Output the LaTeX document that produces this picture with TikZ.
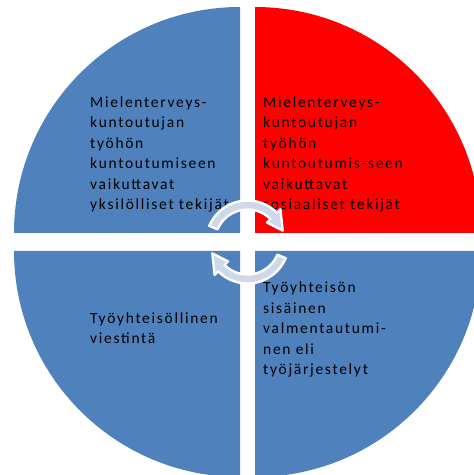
\documentclass[tikz,border=0pt]{standalone}
\usepackage{fontspec}
\setmainfont{Carlito}[LetterSpace=11]
\definecolor{qblue}{RGB}{79,129,189}
\definecolor{qred}{RGB}{255,0,0}
\definecolor{arrfill}{RGB}{205,216,234}
\tikzset{
  quad/.style={draw=none},
  lbl/.style={inner sep=0pt, anchor=base west, align=left, text=black,
    font=\fontsize{15.5}{20.6}\selectfont},
  cyc/.style={fill=arrfill, draw=white, line width=2.4pt, line join=round}
}
\begin{document}
\begin{tikzpicture}[x=1pt,y=1pt]
\useasboundingbox (0,0) rectangle (474,475);
\clip (0,0) rectangle (474,475);
% quadrants
\fill[qblue] (240,242) -- (14,242) arc[start angle=180,end angle=90,radius=226] -- cycle;
\fill[qred]  (255,242) -- (255,468) arc[start angle=90,end angle=0,radius=226] -- cycle;
\fill[qblue] (240,224) -- (14,224) arc[start angle=180,end angle=270,radius=226] -- cycle;
\fill[qblue] (255,224) -- (481,224) arc[start angle=0,end angle=-90,radius=226] -- cycle;
% texts (anchor = baseline of last line)
\node[lbl] (tl) at (90,265) {Mielenterveys-\\kuntoutujan\\työhön\\kuntoutumiseen\\vaikuttavat\\yksilölliset tekijät};
\node[lbl] (tr) at (263,265) {Mielenterveys-\\kuntoutujan\\työhön\\kuntoutumis-seen\\vaikuttavat\\sosiaaliset tekijät};
\node[lbl] (bl) at (90,131) {Työyhteisöllinen\\viestintä};
\node[lbl] (br) at (263,100) {Työyhteisön\\sisäinen\\valmentautumi-\\nen eli\\työjärjestelyt};
% cycle arrows
\begin{scope}[shift={(247.5,233)}]
  \path[cyc] (157:41.5) arc[start angle=157,end angle=45,radius=41.5] -- (45:46.5) -- (18:37) -- (45:27.5) -- (45:32.5) arc[start angle=45,end angle=157,radius=32.5] -- cycle;
\end{scope}
\begin{scope}[shift={(247.5,233)},rotate=180]
  \path[cyc] (157:41.5) arc[start angle=157,end angle=45,radius=41.5] -- (45:46.5) -- (18:37) -- (45:27.5) -- (45:32.5) arc[start angle=45,end angle=157,radius=32.5] -- cycle;
\end{scope}
\end{tikzpicture}
\end{document}
